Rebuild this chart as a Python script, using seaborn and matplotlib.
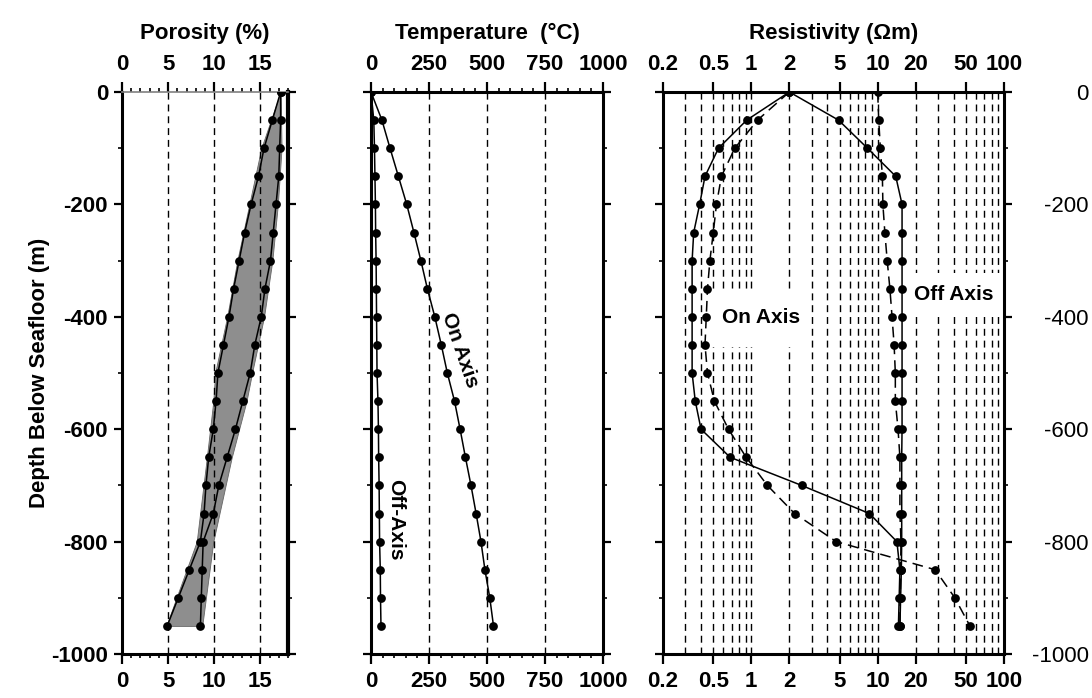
import matplotlib
matplotlib.use("Agg")
import matplotlib.pyplot as plt
from matplotlib.ticker import FixedLocator, MultipleLocator, NullLocator
import seaborn as sns

# ---------------- data ----------------
depth = [0, -50, -100, -150, -200, -250, -300, -350, -400, -450,
         -500, -550, -600, -650, -700, -750, -800, -850, -900, -950]

# porosity (%) : lower and upper estimates
por_low = [17.2, 16.3, 15.4, 14.8, 14.0, 13.3, 12.7, 12.1, 11.6, 11.0,
           10.4, 10.2, 9.9, 9.4, 9.1, 8.9, 8.5, 7.3, 6.1, 4.9]
por_high = [17.2, 17.2, 17.1, 17.0, 16.7, 16.4, 16.1, 15.5, 15.1, 14.4,
            13.9, 13.1, 12.3, 11.4, 10.5, 9.9, 8.8, 8.7, 8.6, 8.5]

# shaded porosity range
band_depth = [0, -100, -200, -300, -400, -500, -550, -650, -800, -950]
band_low = [17.2, 15.1, 13.8, 12.5, 11.4, 10.1, 9.9, 9.2, 8.1, 4.8]
band_high = [17.2, 17.3, 16.9, 16.3, 15.4, 14.1, 13.5, 11.9, 9.9, 8.7]

# temperature (deg C)
temp_on = [0, 47, 82, 118, 154, 185, 215, 243, 275, 303,
           329, 360, 384, 407, 431, 453, 474, 491, 512, 528]
temp_off = [0, 12, 15, 17, 19, 20, 22, 23, 24, 25,
            26, 30, 32, 33, 35, 36, 37, 40, 41, 43]

# resistivity (ohm m): solid and dashed models, on and off axis
res_on_solid = [2.0, 0.92, 0.55, 0.43, 0.39, 0.35, 0.34, 0.34, 0.34, 0.34,
                0.34, 0.36, 0.40, 0.68, 2.5, 8.6, 14.2, 15.0, 14.8, 14.6]
res_off_solid = [2.0, 4.9, 8.3, 13.9, 15.6, 15.6, 15.6, 15.6, 15.6, 15.6,
                 15.6, 15.6, 15.6, 15.5, 15.5, 15.5, 15.5, 15.4, 15.2, 15.0]
res_on_dashed = [2.0, 1.12, 0.74, 0.58, 0.53, 0.50, 0.47, 0.45, 0.44, 0.43,
                 0.45, 0.51, 0.66, 0.91, 1.34, 2.2, 4.7, 28.5, 40.8, 53.7]
res_off_dashed = [10.0, 10.2, 10.5, 10.9, 11.0, 11.4, 11.9, 12.5, 13.0, 13.5,
                  13.8, 13.8, 14.5, 15.0, 15.0, 15.0, 15.3, 15.2, 15.1, 15.0]

por_ticks = [0, 5, 10, 15]
temp_ticks = [0, 250, 500, 750, 1000]
res_ticks = [0.2, 0.5, 1, 2, 5, 10, 20, 50, 100]
res_tick_labels = ["0.2", "0.5", "1", "2", "5", "10", "20", "50", "100"]
res_grid = [0.3, 0.4, 0.5, 0.6, 0.7, 0.8, 0.9, 1, 2, 3, 4, 5, 6, 7, 8, 9,
            10, 20, 30, 40, 50, 60, 70, 80, 90]
depth_ticks = [0, -200, -400, -600, -800, -1000]

# ---------------- style ----------------
sns.set_theme(style="ticks")
plt.rcParams["font.family"] = ["Liberation Sans", "DejaVu Sans"]
plt.rcParams["font.weight"] = "bold"
plt.rcParams["axes.labelweight"] = "bold"
for key in ("text.color", "axes.labelcolor", "xtick.color", "ytick.color",
            "axes.edgecolor", "xtick.labelcolor", "ytick.labelcolor"):
    plt.rcParams[key] = "black"

FS = 16
W, H = 1092, 698
SPINE_LW = 2.2
GRID_LS = (0, (5, 3.5))
DATA_LS = (0, (7, 4))
MS = 6.3

fig = plt.figure(figsize=(W / 100, H / 100), dpi=100)
top_px, bot_px = 92, 654
ax_h = (bot_px - top_px) / H
ax_y = 1 - bot_px / H
ax1 = fig.add_axes([122 / W, ax_y, 166 / W, ax_h])
ax2 = fig.add_axes([371 / W, ax_y, 232 / W, ax_h])
ax3 = fig.add_axes([663 / W, ax_y, 341 / W, ax_h])


def base_axis(ax):
    ax.set_ylim(-1000, 0)
    ax.yaxis.set_major_locator(FixedLocator(depth_ticks))
    ax.yaxis.set_minor_locator(MultipleLocator(100))
    for s in ax.spines.values():
        s.set_linewidth(SPINE_LW)
        s.set_color("black")
        s.set_visible(True)
    ax.tick_params(axis="both", which="both", direction="out", color="black",
                   labelcolor="black")
    ax.tick_params(axis="y", which="major", length=6, width=1.6,
                   left=True, right=True, labelsize=FS, pad=4)
    ax.tick_params(axis="y", which="minor", length=3, width=1.2,
                   left=True, right=True)
    ax.tick_params(axis="x", which="major", length=7, width=1.6,
                   top=True, bottom=True, labeltop=True, labelbottom=True,
                   labelsize=FS, pad=5)
    ax.tick_params(axis="x", which="minor", length=3, width=1.2,
                   top=True, bottom=True)
    ax.set_facecolor("white")
    ax.grid(False)


def title(ax, text):
    ax.text(0.5, 1 + (top_px - 33) / (bot_px - top_px), text,
            transform=ax.transAxes, ha="center", va="center",
            fontsize=FS, fontweight="bold", color="black")


def series(ax, x, y, ls="-"):
    sns.lineplot(x=x, y=y, sort=False, estimator=None, ax=ax, color="black",
                 linewidth=1.1, linestyle=ls, marker="o", markersize=MS,
                 markeredgewidth=0, markerfacecolor="black", zorder=4,
                 clip_on=True)


# ---------------- porosity ----------------
base_axis(ax1)
ax1.set_xlim(0, 18)
ax1.xaxis.set_major_locator(FixedLocator(por_ticks))
ax1.xaxis.set_minor_locator(MultipleLocator(1))
ax1.fill_betweenx(band_depth, band_low, band_high, facecolor="#8e8e8e",
                  edgecolor="#666666", linewidth=0.6, zorder=1)
for v in por_ticks[1:]:
    ax1.axvline(v, color="black", lw=1.0, ls=GRID_LS, zorder=2)
series(ax1, por_low, depth)
series(ax1, por_high, depth)
ax1.spines["top"].set_linewidth(1.2)
ax1.spines["top"].set_color("#808080")
ax1.spines["right"].set_linewidth(3.0)
ax1.set_yticks(depth_ticks, [str(v) for v in depth_ticks])
title(ax1, "Porosity (%)")
fig.text(40 / W, 1 - 373 / H, "Depth Below Seafloor (m)", rotation=90,
         ha="center", va="center", fontsize=FS, fontweight="bold",
         color="black")

# ---------------- temperature ----------------
base_axis(ax2)
ax2.set_xlim(0, 1000)
ax2.xaxis.set_major_locator(FixedLocator(temp_ticks))
ax2.xaxis.set_minor_locator(MultipleLocator(50))
for v in temp_ticks[1:-1]:
    ax2.axvline(v, color="black", lw=1.0, ls=GRID_LS, zorder=2)
series(ax2, temp_off, depth)
series(ax2, temp_on, depth)
ax2.tick_params(axis="y", labelleft=False)
ax2.text(382, -459, "On Axis", rotation=-71, ha="center", va="center",
         fontsize=FS - 1, fontweight="bold", rotation_mode="anchor")
ax2.text(108, -762, "Off-Axis", rotation=-90, ha="center", va="center",
         fontsize=FS - 1, fontweight="bold")
title(ax2, "Temperature  (°C)")

# ---------------- resistivity ----------------
base_axis(ax3)
ax3.set_xscale("log")
ax3.set_xlim(0.2, 100)
ax3.xaxis.set_major_locator(FixedLocator(res_ticks))
ax3.xaxis.set_minor_locator(NullLocator())
ax3.set_xticks(res_ticks, res_tick_labels)
for v in res_grid:
    ax3.axvline(v, color="black", lw=1.0, ls=GRID_LS, zorder=1)
# white backing behind the curve labels
ax3.fill_betweenx([-352, -454], 0.48, 2.6, color="white", lw=0, zorder=2)
ax3.fill_betweenx([-322, -400], 18, 99, color="white", lw=0, zorder=2)
series(ax3, res_on_solid, depth)
series(ax3, res_off_solid, depth)
series(ax3, res_on_dashed, depth, ls=DATA_LS)
series(ax3, res_off_dashed, depth, ls=DATA_LS)
ax3.text(1.2, -402, "On Axis", ha="center", va="center", fontsize=FS - 1,
         fontweight="bold", zorder=5)
ax3.text(40, -361, "Off Axis", ha="center", va="center", fontsize=FS - 1,
         fontweight="bold", zorder=5)
ax3.tick_params(axis="y", which="major", labelleft=False, labelright=True,
                pad=55)
ax3.set_yticks(depth_ticks, [str(v) for v in depth_ticks],
               fontweight="normal", ha="right")
title(ax3, "Resistivity (\u03a9m)")

for ax in (ax1, ax2, ax3):
    ax.set_xlabel("")
    ax.set_ylabel("")
    leg = ax.get_legend()
    if leg is not None:
        leg.remove()

fig.savefig("out.png", dpi=100)
